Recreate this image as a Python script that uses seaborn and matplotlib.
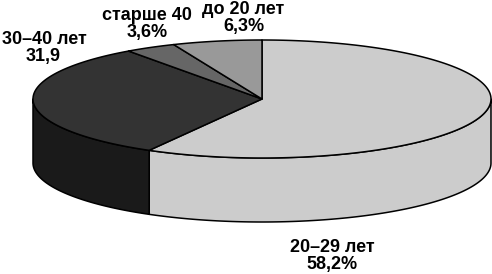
import numpy as np
import matplotlib
matplotlib.use("Agg")
import matplotlib.pyplot as plt
import seaborn as sns
from matplotlib.patches import Polygon

# ---- data ----
categories = ["20–29 лет", "30–40 лет", "старше 40", "до 20 лет"]
values = [58.2, 31.9, 3.6, 6.3]
value_labels = ["58,2%", "31,9", "3,6%", "6,3%"]
top_colors = ["#cccccc", "#333333", "#666666", "#999999"]
side_colors = ["#cccccc", "#1a1a1a", "#555555", "#888888"]

sns.set_theme(style="white")
plt.rcParams['font.family'] = ['Liberation Sans', 'DejaVu Sans']

fig = plt.figure(figsize=(4.92, 2.74), dpi=100)
ax = fig.add_axes([0, 0, 1, 1])
ax.set_xlim(0, 492)
ax.set_ylim(274, 0)
ax.axis("off")

# geometry of the 3D pie (pixel units)
cx, cy, a, b, h = 262, 99, 229, 59, 64

def pt(phi_deg, dz=0):
    p = np.deg2rad(phi_deg)
    return cx + a * np.sin(p), cy - b * np.cos(p) + dz

total = float(sum(values))
angles = np.concatenate([[0], np.cumsum(values) / total * 360.0])

pal = sns.color_palette(top_colors)
spal = sns.color_palette(side_colors)

# side walls (visible part: 90..270 degrees clockwise from top)
for i in range(len(values)):
    s, e = max(angles[i], 90), min(angles[i + 1], 270)
    if e <= s:
        continue
    ph = np.linspace(s, e, 120)
    top = [pt(p) for p in ph]
    bot = [pt(p, h) for p in ph[::-1]]
    ax.add_patch(Polygon(top + bot, closed=True, facecolor=spal[i],
                         edgecolor="black", linewidth=1.1, joinstyle="round"))

# top faces
for i in range(len(values)):
    ph = np.linspace(angles[i], angles[i + 1], 200)
    verts = [(cx, cy)] + [pt(p) for p in ph]
    ax.add_patch(Polygon(verts, closed=True, facecolor=pal[i],
                         edgecolor="black", linewidth=1.1, joinstyle="round"))

# labels (two lines each)
label_pos = [((332, 248), (332, 265)), ((44, 39), (43, 56)),
             ((147, 15), (147, 32)), ((243, 10), (244, 27))]
for ((x1, y1), (x2, y2)), c, v in zip(label_pos, categories, value_labels):
    ax.text(x1, y1, c, ha="center", va="center", fontsize=13,
            fontweight="bold", color="black")
    ax.text(x2, y2, v, ha="center", va="center", fontsize=13,
            fontweight="bold", color="black")

fig.savefig("out.png", dpi=100)
